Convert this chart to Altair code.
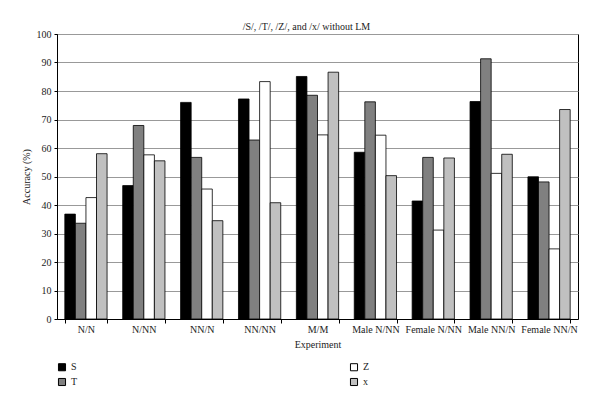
import altair as alt
import pandas as pd

categories = ["N/N", "N/NN", "NN/N", "NN/NN", "M/M", "Male N/NN", "Female N/NN", "Male NN/N", "Female NN/N"]
s_vals = [36.8, 46.8, 76.0, 77.2, 85.1, 58.5, 41.4, 76.3, 49.9]
t_vals = [33.6, 67.9, 56.7, 62.8, 78.5, 76.2, 56.7, 91.3, 48.1]
z_vals = [42.6, 57.6, 45.6, 83.3, 64.6, 64.5, 31.2, 51.1, 24.6]
x_vals = [58.0, 55.5, 34.5, 40.8, 86.6, 50.3, 56.5, 57.8, 73.5]
series = ["S", "T", "Z", "x"]
series_colors = ["#000000", "#808080", "#ffffff", "#c0c0c0"]

rows = []
for name, vals in zip(series, [s_vals, t_vals, z_vals, x_vals]):
    for c, v in zip(categories, vals):
        rows.append({"Experiment": c, "series": name, "value": v})
df = pd.DataFrame(rows)

FONT = "Liberation Serif"

chart = alt.Chart(df).mark_bar(stroke="#000000", strokeWidth=0.8).encode(
    x=alt.X("Experiment:N", sort=categories,
            scale=alt.Scale(paddingInner=0.27, paddingOuter=0.135),
            axis=alt.Axis(title="Experiment", labelAngle=0, tickBand="extent",
                          tickSize=4, labelPadding=1, titlePadding=5,
                          domainColor="#000000", tickColor="#000000",
                          labelFont=FONT, titleFont=FONT, labelFontSize=10,
                          titleFontSize=10, titleFontWeight="normal",
                          labelColor="#222222", titleColor="#222222")),
    xOffset=alt.XOffset("series:N", scale=alt.Scale(domain=series, paddingInner=0, paddingOuter=0)),
    y=alt.Y("value:Q", scale=alt.Scale(domain=[0, 100], nice=False),
            axis=alt.Axis(title="Accuracy (%)", values=list(range(0, 101, 10)),
                          tickSize=3, labelPadding=3, titlePadding=5,
                          grid=True, gridColor="#999999", gridWidth=1.2,
                          domainColor="#000000", tickColor="#000000",
                          labelFont=FONT, titleFont=FONT, labelFontSize=10,
                          titleFontSize=10, titleFontWeight="normal",
                          labelColor="#222222", titleColor="#222222")),
    color=alt.Color("series:N",
                    scale=alt.Scale(domain=series, range=series_colors),
                    legend=alt.Legend(title=None, orient="none", legendX=0, legendY=328,
                                      columns=2, columnPadding=270, rowPadding=3,
                                      symbolType="square", symbolSize=50,
                                      symbolStrokeColor="#000000", symbolStrokeWidth=1,
                                      labelFont=FONT, labelFontSize=10, labelColor="#222222",
                                      labelOffset=4)),
).properties(
    width=521, height=285,
    title=alt.TitleParams("/S/, /T/, /Z/, and /x/ without LM", font=FONT, fontSize=10,
                          fontWeight="normal", anchor="middle", color="#222222",
                          offset=-3, dx=-11),
    autosize=alt.AutoSizeParams(type="none"),
    padding={"left": 49, "top": 26, "right": 14, "bottom": 78},
).configure_view(stroke="#000000", strokeWidth=1)

chart.save("out.html", embed_options={"renderer": "svg", "actions": False})
